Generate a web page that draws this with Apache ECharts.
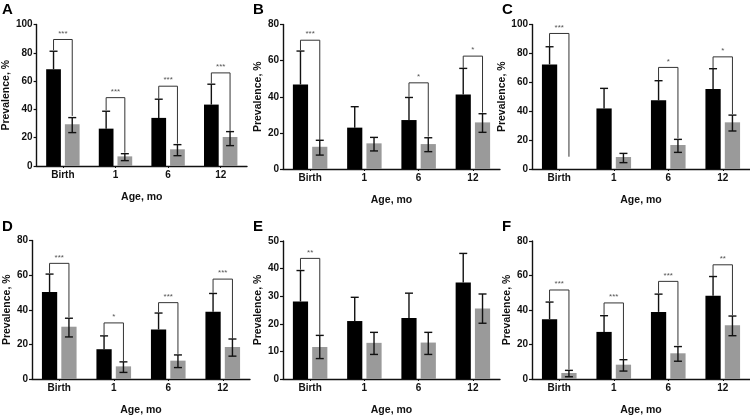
<!DOCTYPE html>
<html><head><meta charset="utf-8">
<script src="https://cdn.jsdelivr.net/npm/echarts@6/dist/echarts.min.js"></script>
<style>html,body{margin:0;padding:0;background:#fff}#c{width:750px;height:417px}</style>
</head><body><div id="c"></div>
<script>
const categories = ['Birth', '1', '6', '12'];
const panelLetters = ['A', 'B', 'C', 'D', 'E', 'F'];
const yMax = [100, 80, 100, 80, 50, 80];
const yInterval = [20, 20, 20, 20, 10, 20];

// Black bars (value and upper error)
const blackA = [68.4, 26.4, 34.0, 43.4], blackUpA = [81.1, 38.7, 47.2, 57.8];
const blackB = [46.8, 22.9, 27.1, 41.3], blackUpB = [65.3, 34.5, 39.6, 55.7];
const blackC = [72.4, 41.9, 47.5, 55.3], blackUpC = [84.6, 55.8, 61.1, 69.4];
const blackD = [50.2, 17.2, 28.6, 38.8], blackUpD = [60.6, 24.9, 38.1, 49.4];
const blackE = [28.1, 21.0, 22.1, 35.0], blackUpE = [39.3, 29.6, 31.1, 45.5];
const blackF = [34.7, 27.3, 38.9, 48.3], blackUpF = [44.6, 36.7, 49.2, 59.4];

// Gray bars (value, lower and upper error)
const grayA = [29.5, 6.8, 11.8, 20.5], grayLoA = [23.6, 3.8, 7.3, 14.4], grayHiA = [34.2, 8.7, 15.1, 24.3];
const grayB = [12.3, 14.2, 13.8, 25.8], grayLoB = [7.7, 10.0, 9.6, 20.3], grayHiB = [15.9, 17.5, 17.3, 30.6];
const grayC = [0, 8.3, 16.6, 32.3], grayLoC = [null, 4.4, 11.5, 26.3], grayHiC = [null, 10.8, 20.5, 37.3];
const grayD = [30.2, 7.3, 10.6, 18.5], grayLoD = [24.3, 3.8, 6.6, 13.2], grayHiD = [35.1, 9.9, 13.9, 23.1];
const grayE = [11.6, 13.1, 13.2, 25.5], grayLoE = [7.4, 8.9, 8.9, 20.2], grayHiE = [15.8, 16.9, 16.9, 30.8];
const grayF = [3.5, 8.3, 14.9, 31.2], grayLoF = [1.3, 4.6, 10.3, 25.1], grayHiF = [5.0, 11.2, 18.8, 36.5];

// Significance brackets: [category index, bracket height, left leg bottom, right leg bottom]
const bracketsA = [[0, 89.4, 81.8, 35.4], [1, 48.3, 39.4, 9.4], [2, 56.4, 47.6, 15.8], [3, 65.8, 58.3, 24.8]];
const bracketLabelsA = ['***', '***', '***', '***'];
const bracketsB = [[0, 71.3, 65.8, 16.0], [2, 47.7, 40.0, 17.9], [3, 62.5, 56.0, 31.2]];
const bracketLabelsB = ['***', '*', '*'];
const bracketsC = [[0, 93.8, 85.0, 8.5], [2, 70.3, 61.5, 21.2], [3, 77.6, 69.6, 38.0]];
const bracketLabelsC = ['***', '*', '*'];
const bracketsD = [[0, 66.8, 61.1, 35.7], [1, 32.4, 25.4, 10.4], [2, 44.1, 38.6, 14.5], [3, 57.7, 49.8, 23.2]];
const bracketLabelsD = ['***', '*', '***', '***'];
const bracketsE = [[0, 43.7, 39.6, 16.0]];
const bracketLabelsE = ['**'];
const bracketsF = [[0, 51.6, 45.0, 5.5], [1, 44.1, 37.2, 11.4], [2, 56.6, 49.6, 19.4], [3, 66.2, 59.7, 36.9]];
const bracketLabelsF = ['***', '***', '***', '**'];

const panels = [
  {black: blackA, blackUp: blackUpA, gray: grayA, grayLo: grayLoA, grayHi: grayHiA, br: bracketsA, brl: bracketLabelsA},
  {black: blackB, blackUp: blackUpB, gray: grayB, grayLo: grayLoB, grayHi: grayHiB, br: bracketsB, brl: bracketLabelsB},
  {black: blackC, blackUp: blackUpC, gray: grayC, grayLo: grayLoC, grayHi: grayHiC, br: bracketsC, brl: bracketLabelsC},
  {black: blackD, blackUp: blackUpD, gray: grayD, grayLo: grayLoD, grayHi: grayHiD, br: bracketsD, brl: bracketLabelsD},
  {black: blackE, blackUp: blackUpE, gray: grayE, grayLo: grayLoE, grayHi: grayHiE, br: bracketsE, brl: bracketLabelsE},
  {black: blackF, blackUp: blackUpF, gray: grayF, grayLo: grayLoF, grayHi: grayHiF, br: bracketsF, brl: bracketLabelsF}
];

const grids = [
  {left: 31, top: 24.5, width: 216, height: 141.5},
  {left: 283, top: 24.5, width: 217, height: 144.5},
  {left: 532, top: 24.5, width: 218, height: 144.5},
  {left: 32, top: 240.5, width: 218, height: 145.5},
  {left: 283, top: 241, width: 217, height: 145},
  {left: 532, top: 241, width: 218, height: 145}
];
const letterPos = [[2, 2], [253, 2], [502, 2], [2, 219], [253, 219], [502, 219]];

const FONT = '"Liberation Sans", Arial, sans-serif';
const BW = 0.28, GAP = 0.27;
const GRAY = '#9a9a9a';

function offsetFor(api, side) {
  const band = api.size([1, 0])[0];
  return side * band * BW * (1 + GAP) / 2;
}

function errRender(params, api) {
  const c = api.value(0), lo = api.value(1), hi = api.value(2), side = api.value(3);
  const off = offsetFor(api, side);
  const p1 = api.coord([c, lo]), p2 = api.coord([c, hi]);
  const x = p1[0] + off;
  const cap = 4;
  const st = {stroke: '#111', lineWidth: 1.4};
  const ch = [
    {type: 'line', shape: {x1: x, y1: p1[1], x2: x, y2: p2[1]}, style: st},
    {type: 'line', shape: {x1: x - cap, y1: p2[1], x2: x + cap, y2: p2[1]}, style: st}
  ];
  if (side > 0) ch.push({type: 'line', shape: {x1: x - cap, y1: p1[1], x2: x + cap, y2: p1[1]}, style: st});
  return {type: 'group', children: ch};
}

function makeBracketRender(labels) {
  return function (params, api) {
    const c = api.value(0), h = api.value(1), lb = api.value(2), rb = api.value(3);
    const offL = offsetFor(api, -1), offR = offsetFor(api, 1);
    const ph = api.coord([c, h]), pl = api.coord([c, lb]), pr = api.coord([c, rb]);
    const xl = ph[0] + offL, xr = ph[0] + offR;
    return {type: 'group', children: [
      {type: 'polyline', shape: {points: [[xl, pl[1]], [xl, ph[1]], [xr, ph[1]], [xr, pr[1]]]},
        style: {stroke: '#333', lineWidth: 1, fill: null}},
      {type: 'text', x: (xl + xr) / 2, y: ph[1] - 2,
        style: {text: labels[params.dataIndex], fill: '#555', fontSize: 8, fontFamily: FONT,
          align: 'center', verticalAlign: 'bottom'}}
    ]};
  };
}

const option = {
  animation: false,
  backgroundColor: '#fff',
  grid: grids.map(g => Object.assign({containLabel: false}, g)),
  xAxis: grids.map((g, i) => ({
    type: 'category', gridIndex: i, data: categories,
    name: 'Age, mo', nameLocation: 'middle', nameGap: 26,
    nameTextStyle: {fontFamily: FONT, fontWeight: 'bold', fontSize: 10.5, color: '#111'},
    axisLine: {lineStyle: {color: '#111', width: 1.4}},
    axisTick: {show: true, alignWithLabel: true, length: 2, lineStyle: {color: '#111'}},
    axisLabel: {fontFamily: FONT, fontWeight: 'bold', fontSize: 10, color: '#111', margin: 4}
  })),
  yAxis: grids.map((g, i) => ({
    type: 'value', gridIndex: i, min: 0, max: yMax[i], interval: yInterval[i],
    name: 'Prevalence, %', nameLocation: 'middle', nameGap: 13,
    nameTextStyle: {fontFamily: FONT, fontWeight: 'bold', fontSize: 10.5, color: '#111'},
    axisLine: {show: true, lineStyle: {color: '#111', width: 1.4}},
    axisTick: {show: true, length: 3, lineStyle: {color: '#111', width: 1.2}},
    splitLine: {show: false},
    axisLabel: {fontFamily: FONT, fontWeight: 'bold', fontSize: 10, color: '#111', margin: 4}
  })),
  graphic: panelLetters.map((L, i) => ({
    type: 'text', left: letterPos[i][0], top: letterPos[i][1],
    style: {text: L, fontFamily: FONT, fontWeight: 'bold', fontSize: 15, fill: '#000'}
  })),
  series: []
};

panels.forEach((p, i) => {
  option.series.push({
    type: 'bar', xAxisIndex: i, yAxisIndex: i, data: p.black,
    barWidth: (BW * 100) + '%', barGap: (GAP * 100) + '%',
    itemStyle: {color: '#000'}
  });
  option.series.push({
    type: 'bar', xAxisIndex: i, yAxisIndex: i, data: p.gray,
    barWidth: (BW * 100) + '%', barGap: (GAP * 100) + '%',
    itemStyle: {color: GRAY}
  });
  const err = [];
  p.black.forEach((v, k) => err.push([k, v, p.blackUp[k], -1]));
  p.gray.forEach((v, k) => { if (p.grayHi[k] != null) err.push([k, p.grayLo[k], p.grayHi[k], 1]); });
  option.series.push({
    type: 'custom', xAxisIndex: i, yAxisIndex: i, renderItem: errRender, data: err, z: 5, silent: true
  });
  option.series.push({
    type: 'custom', xAxisIndex: i, yAxisIndex: i, renderItem: makeBracketRender(p.brl), data: p.br, z: 6, silent: true
  });
});

const chart = echarts.init(document.getElementById('c'), null, {renderer: 'canvas'});
chart.setOption(option);
</script></body></html>
